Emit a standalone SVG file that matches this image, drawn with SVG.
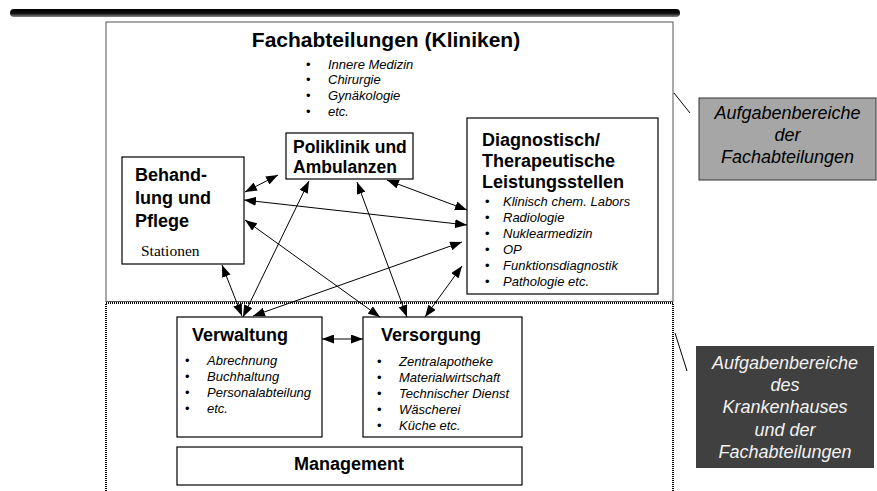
<svg xmlns="http://www.w3.org/2000/svg" width="877" height="491" viewBox="0 0 877 491">
  <defs>
    <linearGradient id="barShade" x1="0" y1="0" x2="0" y2="1">
      <stop offset="0" stop-color="#000"/>
      <stop offset="0.55" stop-color="#111"/>
      <stop offset="1" stop-color="#888"/>
    </linearGradient>
    <marker id="head" viewBox="0 0 12 9" refX="12" refY="4.5" markerWidth="12" markerHeight="9" markerUnits="userSpaceOnUse" orient="auto-start-reverse">
      <path d="M0,0 L12,4.5 L0,9 z" fill="#000"/>
    </marker>
    <style>
      .box { fill: #fff; stroke: #000; stroke-width: 1.2; }
      .h { font-family: "Liberation Sans", Arial, sans-serif; font-weight: bold; fill: #000; }
      .li { font-family: "Liberation Sans", Arial, sans-serif; font-style: italic; font-size: 13px; fill: #000; }
      .dot { font-family: "Liberation Sans", Arial, sans-serif; font-size: 13px; fill: #000; }
      .side { font-family: "Liberation Sans", Arial, sans-serif; font-style: italic; font-size: 18px; text-anchor: middle; }
      .link { stroke: #000; stroke-width: 1; fill: none; marker-start: url(#head); marker-end: url(#head); }
    </style>
  </defs>

  <rect width="877" height="491" fill="#fff"/>

  <!-- header bar -->
  <rect x="10" y="9" width="670" height="8" rx="4" fill="url(#barShade)"/>

  <!-- department area (solid) and hospital area (dotted) -->
  <g id="area-departments">
    <rect x="106" y="22" width="567" height="279.5" fill="none" stroke="#555" stroke-width="1"/>
    <text class="h" x="386" y="47" font-size="21" text-anchor="middle">Fachabteilungen (Kliniken)</text>
    <text class="dot" x="306" y="68.5">•</text><text class="li" x="328" y="68.5">Innere Medizin</text>
    <text class="dot" x="306" y="84.2">•</text><text class="li" x="328" y="84.2">Chirurgie</text>
    <text class="dot" x="306" y="99.9">•</text><text class="li" x="328" y="99.9">Gynäkologie</text>
    <text class="dot" x="306" y="115.6">•</text><text class="li" x="328" y="115.6">etc.</text>
  </g>
  <g id="area-hospital">
    <path d="M106,495 V303 H673 V495" fill="none" stroke="#000" stroke-width="2" stroke-dasharray="1 1"/>
  </g>

  <g id="node-poliklinik">
    <rect class="box" x="286" y="133" width="127" height="46"/>
    <text class="h" x="293" y="153" font-size="17.5">Poliklinik und</text>
    <text class="h" x="293" y="173" font-size="17.5">Ambulanzen</text>
  </g>

  <g id="node-behandlung">
    <rect class="box" x="122" y="157" width="122" height="107"/>
    <text class="h" x="135" y="181" font-size="18">Behand-</text>
    <text class="h" x="135" y="204" font-size="18">lung und</text>
    <text class="h" x="135" y="227" font-size="18">Pflege</text>
    <text x="141" y="256" font-family="'Liberation Serif', 'Times New Roman', serif" font-size="15.5" fill="#000">Stationen</text>
  </g>

  <g id="node-diagnostik">
    <rect class="box" x="467" y="118" width="191" height="176"/>
    <text class="h" x="482" y="146" font-size="18">Diagnostisch/</text>
    <text class="h" x="482" y="167" font-size="18">Therapeutische</text>
    <text class="h" x="482" y="188" font-size="18">Leistungsstellen</text>
    <text class="dot" x="485" y="206">•</text><text class="li" x="503" y="206">Klinisch chem. Labors</text>
    <text class="dot" x="485" y="222">•</text><text class="li" x="503" y="222">Radiologie</text>
    <text class="dot" x="485" y="238">•</text><text class="li" x="503" y="238">Nuklearmedizin</text>
    <text class="dot" x="485" y="254">•</text><text class="li" x="503" y="254">OP</text>
    <text class="dot" x="485" y="270">•</text><text class="li" x="503" y="270">Funktionsdiagnostik</text>
    <text class="dot" x="485" y="286">•</text><text class="li" x="503" y="286">Pathologie etc.</text>
  </g>

  <g id="node-verwaltung">
    <rect class="box" x="177" y="317" width="145" height="120"/>
    <text class="h" x="192" y="341" font-size="18">Verwaltung</text>
    <text class="dot" x="185" y="365">•</text><text class="li" x="207" y="365">Abrechnung</text>
    <text class="dot" x="185" y="381">•</text><text class="li" x="207" y="381">Buchhaltung</text>
    <text class="dot" x="185" y="397">•</text><text class="li" x="207" y="397">Personalabteilung</text>
    <text class="dot" x="185" y="413">•</text><text class="li" x="207" y="413">etc.</text>
  </g>

  <g id="node-versorgung">
    <rect class="box" x="363" y="317" width="159" height="120"/>
    <text class="h" x="381" y="341" font-size="18">Versorgung</text>
    <text class="dot" x="377" y="365.5">•</text><text class="li" x="399" y="365.5">Zentralapotheke</text>
    <text class="dot" x="377" y="381.5">•</text><text class="li" x="399" y="381.5">Materialwirtschaft</text>
    <text class="dot" x="377" y="397.5">•</text><text class="li" x="399" y="397.5">Technischer Dienst</text>
    <text class="dot" x="377" y="413.5">•</text><text class="li" x="399" y="413.5">Wäscherei</text>
    <text class="dot" x="377" y="429.5">•</text><text class="li" x="399" y="429.5">Küche etc.</text>
  </g>

  <g id="node-management">
    <rect class="box" x="177" y="447" width="345" height="38"/>
    <text class="h" x="349" y="470" font-size="18" text-anchor="middle">Management</text>
  </g>

  <!-- relations between the units -->
  <g id="connectors">
    <line class="link" x1="245" y1="192" x2="278" y2="175"/>
    <line class="link" x1="244" y1="200" x2="467" y2="225"/>
    <line class="link" x1="387" y1="180" x2="467" y2="210"/>
    <line class="link" x1="245" y1="220" x2="380" y2="317"/>
    <line class="link" x1="309" y1="181" x2="243" y2="317"/>
    <line class="link" x1="357" y1="182" x2="407" y2="317"/>
    <line class="link" x1="462" y1="242" x2="253" y2="316"/>
    <line class="link" x1="462" y1="266" x2="425" y2="317"/>
    <line class="link" x1="222" y1="265" x2="242" y2="316"/>
    <line class="link" x1="322" y1="339" x2="363" y2="339"/>
  </g>

  <g id="label-fachabteilungen">
    <line x1="674" y1="93" x2="690" y2="113" stroke="#000" stroke-width="1"/>
    <rect x="699" y="98" width="177" height="82" fill="#a6a6a6" stroke="#333" stroke-width="1"/>
    <text class="side" x="787.5" y="119" fill="#000">Aufgabenbereiche</text>
    <text class="side" x="787.5" y="141" fill="#000">der</text>
    <text class="side" x="787.5" y="163" fill="#000">Fachabteilungen</text>
  </g>

  <g id="label-krankenhaus">
    <line x1="675" y1="333" x2="687" y2="371" stroke="#000" stroke-width="1"/>
    <rect x="696" y="346" width="178" height="122" fill="#404040"/>
    <text class="side" x="785" y="369" fill="#f2f2f2">Aufgabenbereiche</text>
    <text class="side" x="785" y="391" fill="#f2f2f2">des</text>
    <text class="side" x="785" y="413" fill="#f2f2f2">Krankenhauses</text>
    <text class="side" x="785" y="435.5" fill="#f2f2f2">und der</text>
    <text class="side" x="785" y="457.5" fill="#f2f2f2">Fachabteilungen</text>
  </g>
</svg>
